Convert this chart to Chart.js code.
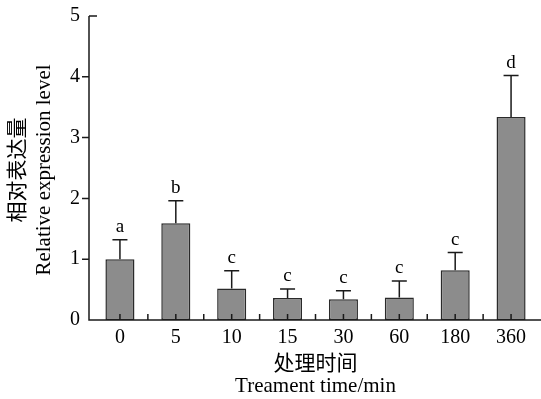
<!DOCTYPE html>
<html><head><meta charset="utf-8">
<script src="https://cdn.jsdelivr.net/npm/chart.js@4/dist/chart.umd.min.js"></script>
<style>html,body{margin:0;padding:0;background:#fff}#wrap{width:541px;height:399px}</style>
</head><body><div id="wrap"><canvas id="c" width="541" height="399"></canvas></div>
<script>
const categories = ['0', '5', '10', '15', '30', '60', '180', '360'];
const means = [1.00, 1.59, 0.52, 0.36, 0.34, 0.37, 0.82, 3.34];
const errors = [0.32, 0.37, 0.29, 0.15, 0.14, 0.27, 0.29, 0.68];
const letters = ['a', 'b', 'c', 'c', 'c', 'c', 'c', 'd'];
const yTicks = [0, 1, 2, 3, 4, 5];
const xTitleLines = ['处理时间', 'Treament time/min'];
const yTitleLines = ['相对表达量', 'Relative expression level'];

const SERIF = "'Liberation Serif', 'Noto Sans CJK SC', serif";
const INK = '#1a1a1a';
Chart.defaults.font.family = SERIF;
Chart.defaults.color = '#000';

const decor = {
  id: 'decor',
  afterDatasetsDraw(chart) {
    const ctx = chart.ctx, ca = chart.chartArea;
    const xs = chart.scales.x, ys = chart.scales.y;
    const axisX = ca.left - 3;
    ctx.save();
    ctx.strokeStyle = INK;
    ctx.lineWidth = 1.5;
    ctx.lineCap = 'butt';
    // axes
    ctx.beginPath();
    ctx.moveTo(axisX, ys.getPixelForValue(yTicks[yTicks.length - 1]));
    ctx.lineTo(axisX, ca.bottom);
    ctx.lineTo(chart.width, ca.bottom);
    ctx.stroke();
    // y ticks
    ctx.beginPath();
    yTicks.forEach((v, i) => {
      const y = ys.getPixelForValue(v);
      if (i === 0) return;
      if (i === yTicks.length - 1) { ctx.moveTo(axisX, y); ctx.lineTo(axisX + 8, y); }
      else { ctx.moveTo(axisX - 7, y); ctx.lineTo(axisX, y); }
    });
    ctx.stroke();
    // x ticks (boundaries and centers, pointing up)
    ctx.beginPath();
    categories.forEach((c, i) => {
      const x = xs.getPixelForValue(i);
      ctx.moveTo(x, ca.bottom); ctx.lineTo(x, ca.bottom - 6);
      if (i > 0) {
        const xb = (x + xs.getPixelForValue(i - 1)) / 2;
        ctx.moveTo(xb, ca.bottom); ctx.lineTo(xb, ca.bottom - 6);
      }
    });
    ctx.stroke();
    // error bars
    const capHalf = 7.5;
    ctx.beginPath();
    means.forEach((m, i) => {
      const x = xs.getPixelForValue(i);
      const y0 = ys.getPixelForValue(m), y1 = ys.getPixelForValue(m + errors[i]);
      ctx.moveTo(x, y0); ctx.lineTo(x, y1);
      ctx.moveTo(x - capHalf, y1); ctx.lineTo(x + capHalf, y1);
    });
    ctx.stroke();
    // letters
    ctx.fillStyle = '#000';
    ctx.font = '19px ' + SERIF;
    ctx.textAlign = 'center';
    ctx.textBaseline = 'alphabetic';
    letters.forEach((t, i) => {
      const x = xs.getPixelForValue(i);
      const y1 = ys.getPixelForValue(means[i] + errors[i]);
      ctx.fillText(t, x, y1 - 8);
    });
    // titles
    ctx.font = '21px ' + SERIF;
    ctx.textBaseline = 'middle';
    const cx = (ca.left + ca.right) / 2;
    ctx.fillText(xTitleLines[0], cx, 364);
    ctx.fillText(xTitleLines[1], cx, 386);
    const cy = (ca.top + ca.bottom) / 2 + 2;
    ctx.translate(0, cy);
    ctx.rotate(-Math.PI / 2);
    ctx.fillText(yTitleLines[0], 0, 18);
    ctx.fillText(yTitleLines[1], 0, 44);
    ctx.restore();
  }
};

new Chart(document.getElementById('c'), {
  type: 'bar',
  data: {
    labels: categories,
    datasets: [{
      data: means,
      backgroundColor: '#8c8c8c',
      borderColor: '#2a2a2a',
      borderWidth: 1.5,
      borderSkipped: false,
      barPercentage: 0.52,
      categoryPercentage: 1
    }]
  },
  options: {
    responsive: false,
    animation: false,
    devicePixelRatio: 1,
    layout: { padding: { top: 16, right: 2, left: 0, bottom: 0 } },
    plugins: { legend: { display: false }, tooltip: { enabled: false } },
    scales: {
      x: {
        offset: true,
        grid: { display: false, drawTicks: false },
        border: { display: false },
        ticks: { color: '#000', font: { family: SERIF, size: 20 }, padding: 6, maxRotation: 0 },
        afterFit(s) { s.height = 79; s.paddingLeft = 0; s.paddingRight = 0; }
      },
      y: {
        min: 0, max: 5,
        grid: { display: false, drawTicks: false },
        border: { display: false },
        ticks: { color: '#000', font: { family: SERIF, size: 20 }, padding: 12 },
        afterBuildTicks(s) { s.ticks = yTicks.map(v => ({ value: v })); },
        afterFit(s) { s.width = 92; s.paddingTop = 0; s.paddingBottom = 0; }
      }
    }
  },
  plugins: [decor]
});
</script>
</body></html>
